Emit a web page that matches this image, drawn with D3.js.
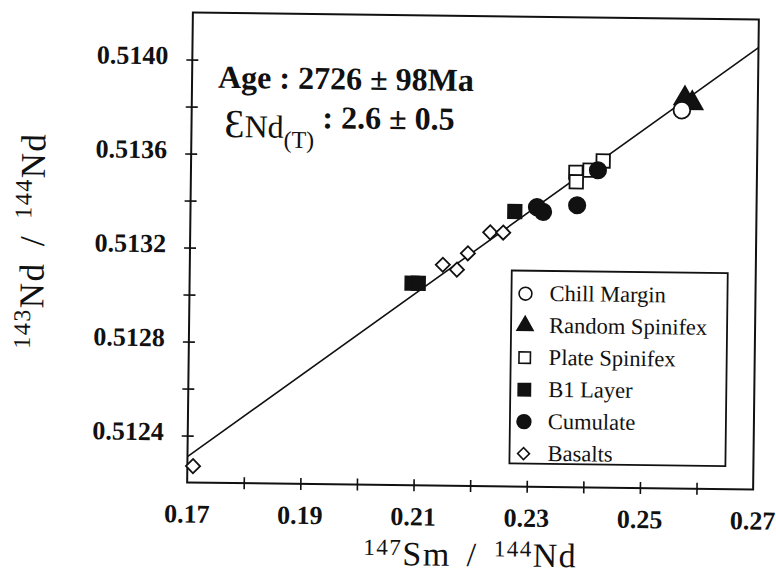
<!DOCTYPE html>
<html>
<head>
<meta charset="utf-8">
<script src="https://cdn.jsdelivr.net/npm/d3@7"></script>
<style>
  body { margin: 0; background: #fff; }
  svg { display: block; }
  text { font-family: "Liberation Serif", "Times New Roman", serif; fill: #111; }
</style>
</head>
<body>
<div id="chart"></div>
<script>
// 147Sm/144Nd vs 143Nd/144Nd isochron

const WIDTH = 776;
const HEIGHT = 578;
const LEFT = 190, RIGHT = 756, TOP = 16, BOTTOM = 486;
const SKEW = 0.7;   // the original scan sits slightly rotated

// data
const chillSm = [0.2566];
const chillNd = [0.51381];
const randomSm = [0.2571, 0.2584];
const randomNd = [0.51386, 0.51384];
const plateSm = [0.2428, 0.2405, 0.2380, 0.2381];
const plateNd = [0.51359, 0.51355, 0.51354, 0.51350];
const b1Sm = [0.2273, 0.2093, 0.2104];
const b1Nd = [0.51337, 0.51306, 0.51306];
const cumulateSm = [0.2312, 0.2323, 0.2383, 0.2419];
const cumulateNd = [0.51339, 0.51337, 0.51340, 0.51355];
const basaltSm = [0.2230, 0.2253, 0.2191, 0.2147, 0.2172, 0.1710];
const basaltNd = [0.51328, 0.51328, 0.51319, 0.51314, 0.51312, 0.51227];

const isochronSm = [0.17, 0.27];
const isochronNd = [0.51231, 0.51408];

const legendNames = ["Chill Margin", "Random Spinifex", "Plate Spinifex", "B1 Layer", "Cumulate", "Basalts"];

const xTickLabels = ["0.17", "0.19", "0.21", "0.23", "0.25", "0.27"];
const xMinorTicks = [0.18, 0.19, 0.20, 0.21, 0.22, 0.23, 0.24, 0.25, 0.26];
const yTickLabels = ["0.5124", "0.5128", "0.5132", "0.5136", "0.5140"];
const yMinorTicks = [0.5124, 0.5126, 0.5128, 0.5130, 0.5132, 0.5134, 0.5136, 0.5138, 0.5140];

const x = d3.scaleLinear().domain([0.17, 0.27]).range([LEFT, RIGHT]);
const y = d3.scaleLinear().domain([0.5122, 0.5142]).range([BOTTOM, TOP]);

const svg = d3.select("#chart").append("svg")
    .attr("width", WIDTH)
    .attr("height", HEIGHT);

const g = svg.append("g")
    .attr("transform", `rotate(${SKEW},473,251)`);

// frame
g.append("rect")
    .attr("x", LEFT).attr("y", TOP)
    .attr("width", RIGHT - LEFT).attr("height", BOTTOM - TOP)
    .attr("fill", "none").attr("stroke", "#111").attr("stroke-width", 2);

// ticks cross the axis lines
const xAxis = g.append("g")
    .attr("transform", `translate(0,${BOTTOM})`)
    .call(d3.axisBottom(x).tickValues(xMinorTicks).tickSize(6).tickFormat(""));
xAxis.select(".domain").remove();
xAxis.selectAll(".tick line").attr("y1", -6).attr("stroke", "#111").attr("stroke-width", 1.6);

const yAxis = g.append("g")
    .attr("transform", `translate(${LEFT},0)`)
    .call(d3.axisLeft(y).tickValues(yMinorTicks).tickSize(6).tickFormat(""));
yAxis.select(".domain").remove();
yAxis.selectAll(".tick line").attr("x1", 6).attr("stroke", "#111").attr("stroke-width", 1.6);

g.selectAll(".xlab")
    .data(xTickLabels)
    .join("text")
    .attr("class", "xlab")
    .attr("x", d => x(+d))
    .attr("y", BOTTOM + 40)
    .attr("text-anchor", "middle")
    .attr("font-size", 26)
    .attr("font-weight", "bold")
    .text(d => d);

g.selectAll(".ylab")
    .data(yTickLabels)
    .join("text")
    .attr("class", "ylab")
    .attr("x", LEFT - 24)
    .attr("y", d => y(+d) + 5)
    .attr("text-anchor", "end")
    .attr("font-size", 26)
    .attr("font-weight", "bold")
    .text(d => d);

// axis titles
const xTitle = g.append("text")
    .attr("x", 474).attr("y", 566)
    .attr("text-anchor", "middle")
    .attr("font-size", 34)
    .attr("word-spacing", 6)
    .attr("letter-spacing", 1.5);
xTitle.append("tspan").attr("font-size", 23).attr("dy", -10).text("147");
xTitle.append("tspan").attr("dy", 10).text("Sm / ");
xTitle.append("tspan").attr("font-size", 23).attr("dy", -10).text("144");
xTitle.append("tspan").attr("dy", 10).text("Nd");

const yTitle = g.append("text")
    .attr("transform", "translate(44,246) rotate(-90)")
    .attr("text-anchor", "middle")
    .attr("font-size", 35)
    .attr("word-spacing", 6)
    .attr("letter-spacing", 1.5);
yTitle.append("tspan").attr("font-size", 24).attr("dy", -13).text("143");
yTitle.append("tspan").attr("dy", 13).text("Nd / ");
yTitle.append("tspan").attr("font-size", 24).attr("dy", -13).text("144");
yTitle.append("tspan").attr("dy", 13).text("Nd");

// annotation
g.append("text")
    .attr("x", 216).attr("y", 91)
    .attr("font-size", 32)
    .attr("font-weight", "bold")
    .text("Age : 2726 \u00b1 98Ma");

const eps = g.append("text").attr("x", 223).attr("y", 140);
eps.append("tspan").attr("font-size", 40).text("\u0190");
eps.append("tspan").attr("font-size", 32).text("Nd");
eps.append("tspan").attr("font-size", 24).attr("dy", 10).text("(T)");
eps.append("tspan").attr("font-size", 32).attr("font-weight", "bold").attr("dy", -20).text(" : 2.6 \u00b1 0.5");

// isochron
const line = d3.line().x(d => x(d[0])).y(d => y(d[1]));
g.append("path")
    .datum(d3.zip(isochronSm, isochronNd))
    .attr("d", line)
    .attr("fill", "none")
    .attr("stroke", "#111")
    .attr("stroke-width", 1.6);

const sym = {
    circle: d3.symbol().type(d3.symbolCircle),
    triangle: d3.symbol().type(d3.symbolTriangle),
    square: d3.symbol().type(d3.symbolSquare)
};

function drawPoints(sm, nd, shape, size, filled, rot) {
    g.append("g")
        .selectAll("path")
        .data(d3.zip(sm, nd))
        .join("path")
        .attr("d", sym[shape].size(size)())
        .attr("transform", d => `translate(${x(d[0])},${y(d[1])}) rotate(${rot || 0})`)
        .attr("fill", filled ? "#111" : "#fff")
        .attr("stroke", "#111")
        .attr("stroke-width", 1.8);
}

drawPoints(randomSm, randomNd, "triangle", 190, true);
drawPoints(chillSm, chillNd, "circle", 220, false);
drawPoints(plateSm, plateNd, "square", 180, false);
drawPoints(b1Sm, b1Nd, "square", 180, true);
drawPoints(cumulateSm, cumulateNd, "circle", 210, true);
drawPoints(basaltSm, basaltNd, "square", 100, false, 45);

// legend
const legend = g.append("g");
legend.append("rect")
    .attr("x", 512).attr("y", 270)
    .attr("width", 216).attr("height", 193)
    .attr("fill", "#fff").attr("stroke", "#111").attr("stroke-width", 1.8);

const legendShapes = [
    {shape: "circle", size: 130, filled: false, rot: 0},
    {shape: "triangle", size: 110, filled: true, rot: 0},
    {shape: "square", size: 130, filled: false, rot: 0},
    {shape: "square", size: 150, filled: true, rot: 0},
    {shape: "circle", size: 150, filled: true, rot: 0},
    {shape: "square", size: 70, filled: false, rot: 45}
];

const rows = legend.selectAll(".row")
    .data(legendNames)
    .join("g")
    .attr("class", "row")
    .attr("transform", (d, i) => `translate(526,${293 + i * 32})`);

rows.append("path")
    .attr("d", (d, i) => sym[legendShapes[i].shape].size(legendShapes[i].size)())
    .attr("transform", (d, i) => `rotate(${legendShapes[i].rot})`)
    .attr("fill", (d, i) => legendShapes[i].filled ? "#111" : "#fff")
    .attr("stroke", "#111")
    .attr("stroke-width", 1.6);

rows.append("text")
    .attr("x", 24)
    .attr("y", 7)
    .attr("font-size", 22.5)
    .text(d => d);
</script>
</body>
</html>
